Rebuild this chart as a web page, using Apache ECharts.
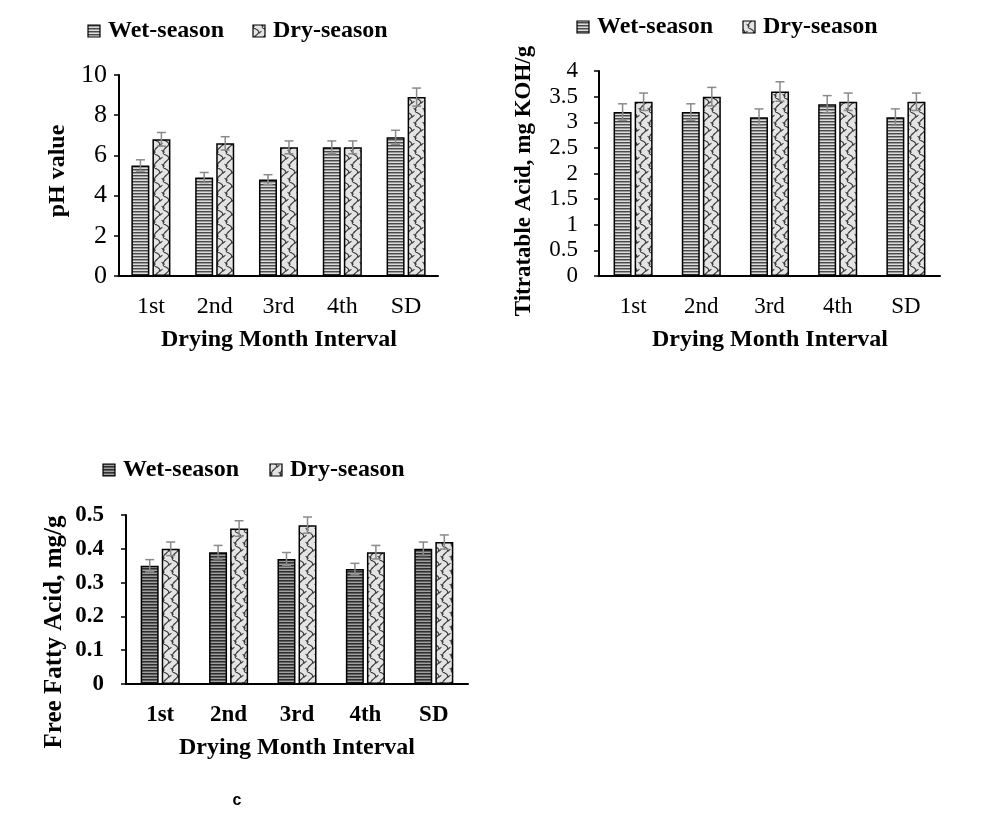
<!DOCTYPE html>
<html><head><meta charset="utf-8">
<script src="https://cdn.jsdelivr.net/npm/echarts@6/dist/echarts.min.js"></script>
<style>html,body{margin:0;padding:0;background:#fff}#c{width:1003px;height:821px}</style>
</head><body><div id="c"></div>
<script>
const categories = ['1st', '2nd', '3rd', '4th', 'SD'];
const seriesNames = ['Wet-season', 'Dry-season'];
const phWet = [5.5, 4.9, 4.8, 6.4, 6.9];
const phDry = [6.8, 6.6, 6.4, 6.4, 8.9];
const phWetErr = [0.28, 0.25, 0.24, 0.32, 0.35];
const phDryErr = [0.34, 0.33, 0.32, 0.32, 0.45];
const taWet = [3.2, 3.2, 3.1, 3.35, 3.1];
const taDry = [3.4, 3.5, 3.6, 3.4, 3.4];
const taWetErr = [0.16, 0.16, 0.16, 0.17, 0.16];
const taDryErr = [0.17, 0.18, 0.19, 0.17, 0.17];
const ffaWet = [0.35, 0.39, 0.37, 0.34, 0.40];
const ffaDry = [0.40, 0.46, 0.47, 0.39, 0.42];
const ffaWetErr = [0.018, 0.02, 0.019, 0.017, 0.02];
const ffaDryErr = [0.02, 0.023, 0.024, 0.02, 0.021];
const yTitles = ['pH value', 'Titratable Acid, mg KOH/g', 'Free Fatty Acid, mg/g'];
const xTitle = 'Drying Month Interval';

function stripe(colors) {
  const c = document.createElement('canvas');
  c.width = 4; c.height = colors.length;
  const g = c.getContext('2d');
  colors.forEach((col, i) => { g.fillStyle = col; g.fillRect(0, i, 4, 1); });
  return c;
}
function wave(bg, fg) {
  const c = document.createElement('canvas');
  c.width = 9; c.height = 14;
  const g = c.getContext('2d');
  g.fillStyle = bg; g.fillRect(0, 0, 9, 14);
  g.strokeStyle = fg; g.lineWidth = 1.1;
  g.beginPath();
  g.moveTo(1.5, 0); g.bezierCurveTo(7.5, 2, 8, 4.5, 4.5, 7);
  g.bezierCurveTo(1, 9.5, 1, 12, 1.5, 14);
  g.stroke();
  g.beginPath();
  g.moveTo(6.5, 5.5); g.lineTo(9, 3.5);
  g.moveTo(0, 3.5); g.lineTo(0.5, 3.1);
  g.moveTo(2.5, 12.5); g.lineTo(0, 10.5);
  g.moveTo(9, 10.5); g.lineTo(8.5, 10.1);
  g.stroke();
  return c;
}
const wetPat = { image: stripe(['#dcdcdc', '#4a4a4a', '#9a9a9a']), repeat: 'repeat' };
const wetPatDark = { image: stripe(['#a0a0a0', '#2e2e2e', '#606060']), repeat: 'repeat' };
const dryPat = { image: wave('#e4e4e4', '#3a3a3a'), repeat: 'repeat' };

const FONT = '"Liberation Serif", "Times New Roman", serif';
const grids = [
  { left: 119, top: 75, width: 319, height: 201 },
  { left: 599, top: 71, width: 341, height: 205 },
  { left: 126, top: 515, width: 342, height: 169 }
];
const yCfg = [
  { max: 10, interval: 2, size: 26, bold: 'normal', margin: 12 },
  { max: 4, interval: 0.5, size: 23, bold: 'normal', margin: 21 },
  { max: 0.5, interval: 0.1, size: 23, bold: 'bold', margin: 22 }
];
const xCfg = [
  { size: 24, bold: 'normal', margin: 19 },
  { size: 23, bold: 'normal', margin: 19 },
  { size: 23, bold: 'bold', margin: 20 }
];
const dataSets = [
  [phWet, phDry, phWetErr, phDryErr, wetPat],
  [taWet, taDry, taWetErr, taDryErr, wetPat],
  [ffaWet, ffaDry, ffaWetErr, ffaDryErr, wetPatDark]
];

const xAxis = [], yAxis = [], series = [];
grids.forEach((g, i) => {
  xAxis.push({
    type: 'category', gridIndex: i, data: categories,
    axisLine: { lineStyle: { color: '#000', width: 2 } },
    axisTick: { inside: true, length: 6, lineStyle: { color: '#000', width: 1.5 } },
    axisLabel: { color: '#000', fontFamily: FONT, fontSize: xCfg[i].size, fontWeight: xCfg[i].bold, margin: xCfg[i].margin }
  });
  yAxis.push({
    type: 'value', gridIndex: i, min: 0, max: yCfg[i].max, interval: yCfg[i].interval,
    splitLine: { show: false },
    axisLine: { show: true, lineStyle: { color: '#000', width: 2 } },
    axisTick: { show: true, length: 5, lineStyle: { color: '#000', width: 1.5 } },
    axisLabel: { color: '#000', fontFamily: FONT, fontSize: yCfg[i].size, fontWeight: yCfg[i].bold, margin: yCfg[i].margin }
  });
  const [w, d, we, de, wp] = dataSets[i];
  series.push({
    name: seriesNames[0], type: 'bar', xAxisIndex: i, yAxisIndex: i, data: w,
    barWidth: 18, barGap: '17%',
    itemStyle: { color: wp, borderColor: '#000', borderWidth: 1.5 }
  });
  series.push({
    name: seriesNames[1], type: 'bar', xAxisIndex: i, yAxisIndex: i, data: d,
    barWidth: 18, barGap: '17%',
    itemStyle: { color: dryPat, borderColor: '#000', borderWidth: 1.5 }
  });
  [[w, we, -10.5], [d, de, 10.5]].forEach(([vals, errs, off]) => {
    series.push({
      type: 'custom', xAxisIndex: i, yAxisIndex: i, z: 5,
      data: vals.map((v, k) => [k, v, errs[k]]),
      renderItem: function (params, api) {
        const k = api.value(0), v = api.value(1), e = api.value(2);
        const top = api.coord([k, v + e]);
        const bot = api.coord([k, v - e]);
        const x = top[0] + off;
        const st = { stroke: '#8a8a8a', lineWidth: 1.5 };
        return {
          type: 'group', children: [
            { type: 'line', shape: { x1: x, y1: top[1], x2: x, y2: bot[1] }, style: st },
            { type: 'line', shape: { x1: x - 4.5, y1: top[1], x2: x + 4.5, y2: top[1] }, style: st },
            { type: 'line', shape: { x1: x - 4.5, y1: bot[1], x2: x + 4.5, y2: bot[1] }, style: st }
          ]
        };
      }
    });
  });
});

function txt(x, y, text, size, weight, rot, family) {
  return {
    type: 'text', x: x, y: y, rotation: rot || 0,
    style: {
      text: text, fill: '#000', font: (weight || 'bold') + ' ' + size + 'px ' + (family || FONT),
      align: 'center', verticalAlign: 'middle', textAlign: 'center', textVerticalAlign: 'middle'
    }
  };
}
function legendItem(x, y, pat, label) {
  return [
    { type: 'rect', shape: { x: x, y: y - 6, width: 12, height: 12 }, style: { fill: pat, stroke: '#000', lineWidth: 1.2 } },
    { type: 'text', x: x + 20, y: y, style: { text: label, fill: '#000', font: 'bold 24px ' + FONT, align: 'left', verticalAlign: 'middle', textAlign: 'left', textVerticalAlign: 'middle' } }
  ];
}
const graphic = [].concat(
  legendItem(88, 31, wetPat, seriesNames[0]), legendItem(253, 31, dryPat, seriesNames[1]),
  legendItem(577, 27, wetPat, seriesNames[0]), legendItem(743, 27, dryPat, seriesNames[1]),
  legendItem(103, 470, wetPatDark, seriesNames[0]), legendItem(270, 470, dryPat, seriesNames[1]),
  [
    txt(279, 340, xTitle, 24),
    txt(770, 340, xTitle, 24),
    txt(297, 748, xTitle, 24),
    txt(58, 171, yTitles[0], 24, 'bold', Math.PI / 2),
    txt(524, 181, yTitles[1], 23, 'bold', Math.PI / 2),
    txt(55, 632, yTitles[2], 25, 'bold', Math.PI / 2),
    txt(237, 801, 'c', 16, 'bold', 0, '"Liberation Sans", Arial, sans-serif')
  ]
);

const chart = echarts.init(document.getElementById('c'), null, { renderer: 'canvas' });
chart.setOption({
  animation: false,
  backgroundColor: '#fff',
  grid: grids,
  xAxis: xAxis,
  yAxis: yAxis,
  series: series,
  graphic: graphic
});
</script></body></html>
